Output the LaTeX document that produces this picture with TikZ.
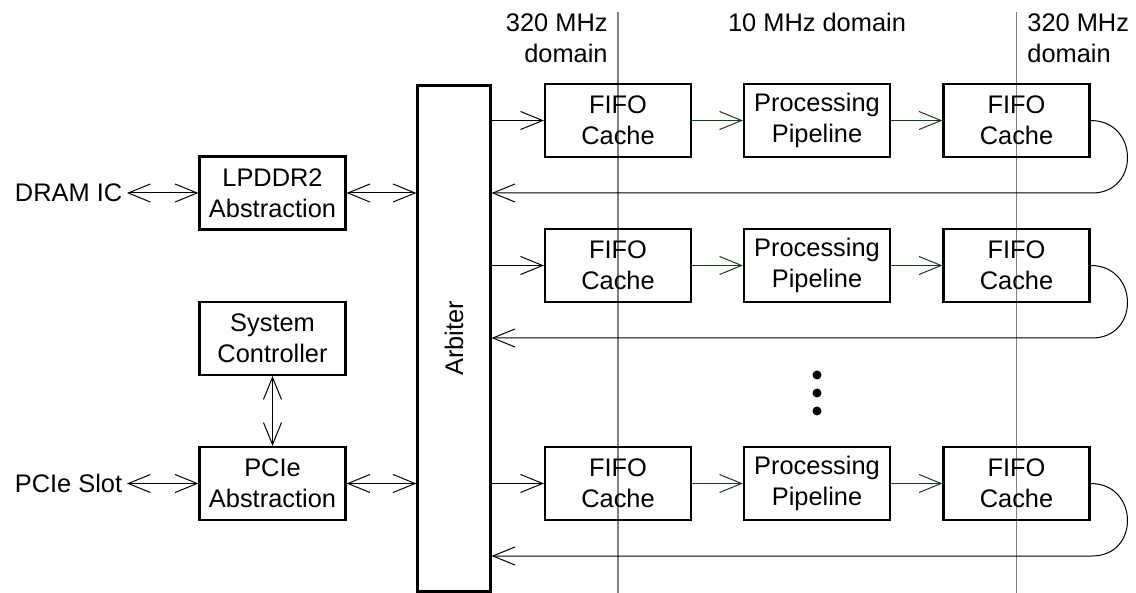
\documentclass[tikz,border=0pt]{standalone}
\usepackage{fontspec}
\setmainfont{Liberation Sans}
\usetikzlibrary{arrows.meta}
\definecolor{pipegreen}{RGB}{28,58,28}
\tikzset{
  box/.style={draw, line width=1.1pt, minimum width=73pt, minimum height=36.5pt, inner sep=0pt, align=center},
  ext/.style={inner sep=2.2pt},
  dom/.style={inner sep=0pt, align=#1},
  conn/.style={line width=0.5pt},
  clk/.style={draw=gray, line width=0.6pt},
  dot/.style={circle, fill, inner sep=0pt, minimum size=4.5pt},
  >={Straight Barb[length=11pt,width=9pt]}
}
\begin{document}
\begin{tikzpicture}[x=0.5pt, y=-0.5pt, font=\fontsize{12.7pt}{15.5pt}\selectfont]
      \useasboundingbox (0,0) rectangle (1136,593);
      % clock domain borders
      \coordinate (clkatop) at (618,12);
      \coordinate (clkabot) at (618,593);
      \coordinate (clkbtop) at (1016.5,12);
      \coordinate (clkbbot) at (1016.5,593);
      \draw[clk] (clkatop) -- (clkabot);
      \draw[clk] (clkbtop) -- (clkbbot);
      \node[dom=right, anchor=north east] (doma) at (608,13) {320 MHz\\domain};
      \node[dom=center, anchor=north] (domb) at (817,13) {10 MHz domain};
      \node[dom=left, anchor=north west] (domc) at (1027,13) {320 MHz\\domain};
      % host side
      \draw
        (127,193) node[ext, anchor=east] (dram){DRAM IC}
        (127,483.5) node[ext, anchor=east] (slot){PCIe Slot}
        (272.5,193) node[box] (lp){LPDDR2\\Abstraction}
        (272.5,338.5) node[box] (sys){System\\Controller}
        (272.5,483.5) node[box] (pcie){PCIe\\Abstraction}
        (454,338.5) node[box, minimum width=36.5pt, minimum height=253pt] (arb){};
      \node[rotate=90] (arbtxt) at (arb) {Arbiter};
      % pipelines
      \draw
        (618,120.5) node[box] (fa1){FIFO\\Cache}
        (817,120.5) node[box] (pp1){Processing\\Pipeline}
        (1016.5,120.5) node[box] (fb1){FIFO\\Cache}
        (618,265.5) node[box] (fa2){FIFO\\Cache}
        (817,265.5) node[box] (pp2){Processing\\Pipeline}
        (1016.5,265.5) node[box] (fb2){FIFO\\Cache}
        (618,483.5) node[box] (fa3){FIFO\\Cache}
        (817,483.5) node[box] (pp3){Processing\\Pipeline}
        (1016.5,483.5) node[box] (fb3){FIFO\\Cache};
      \node[dot] (d1) at (817,375) {};
      \node[dot] (d2) at (817,393) {};
      \node[dot] (d3) at (817,411) {};
      \coordinate (ret1) at (1092,193);
      \coordinate (ret2) at (1092,338);
      \coordinate (ret3) at (1092,556);
      \begin{scope}[conn]
        \draw[<->] (dram) to (lp);
        \draw[<->] (slot) to (pcie);
        \draw[<->] (lp) to (arb.west |- lp);
        \draw[<->] (pcie) to (arb.west |- pcie);
        \draw[<->] (sys) to (pcie);
        \draw[->] (arb.east |- fa1) to (fa1);
        \draw[->] (arb.east |- fa2) to (fa2);
        \draw[->] (arb.east |- fa3) to (fa3);
        \draw[->, pipegreen] (fa1) to (pp1);
        \draw[->, pipegreen] (pp1) to (fb1);
        \draw[->, pipegreen] (fa2) to (pp2);
        \draw[->, pipegreen] (pp2) to (fb2);
        \draw[->, pipegreen] (fa3) to (pp3);
        \draw[->, pipegreen] (pp3) to (fb3);
        \draw[->] (fb1.east) to[out=0, in=0, looseness=1.7] (ret1) -- (arb.east |- ret1);
        \draw[->] (fb2.east) to[out=0, in=0, looseness=1.7] (ret2) -- (arb.east |- ret2);
        \draw[->] (fb3.east) to[out=0, in=0, looseness=1.7] (ret3) -- (arb.east |- ret3);
      \end{scope}
    \end{tikzpicture}
\end{document}
